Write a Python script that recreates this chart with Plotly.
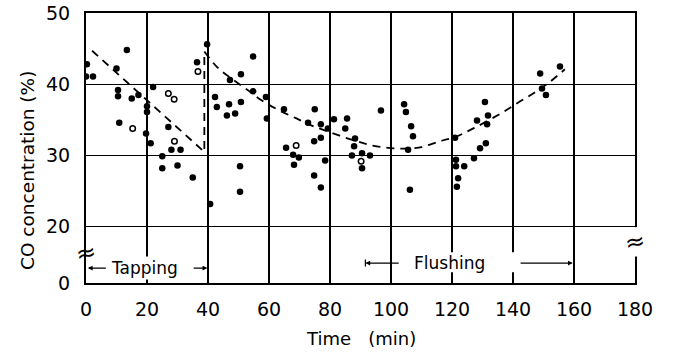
import plotly.graph_objects as go

# Measured CO concentration (%) against time (min)
time_filled = [0.3, 0.0, 2.3, 13.4, 10.0, 10.5, 10.5, 15.0, 17.2, 10.9, 20.0, 20.0, 22.0,
               19.7, 21.2, 27.0, 28.0, 31.0, 25.0, 25.0, 30.0, 35.0, 40.7, 36.4, 39.7,
               42.3, 42.9, 54.8, 50.8, 47.2, 54.8, 59.0, 46.9, 50.8, 46.2, 48.9, 59.3,
               64.9, 75.0, 72.8, 77.0, 79.3, 81.3, 85.6, 85.0,
               65.6, 74.8, 77.0, 67.9, 69.8, 68.2, 78.4, 50.5, 50.5, 74.8, 77.0,
               96.7, 104.3, 104.9, 106.6, 107.2, 88.2, 87.9, 105.6, 87.2, 90.5, 93.1,
               90.5, 106.2,
               121.0, 130.8, 128.2, 131.8, 131.5, 131.1, 129.2, 121.3, 121.3, 124.0,
               122.0, 121.6, 127.2,
               155.4, 148.9, 149.5, 150.8]
co_filled = [42.8, 41.1, 41.1, 44.8, 42.2, 39.2, 38.3, 38.0, 38.5, 34.6, 36.9, 36.1, 39.6,
             33.1, 31.7, 34.0, 30.8, 30.8, 29.9, 28.2, 28.6, 26.9, 23.2, 43.1, 45.6,
             38.2, 36.8, 43.9, 41.4, 40.6, 39.0, 38.2, 37.2, 37.5, 35.6, 35.9, 35.2,
             36.5, 36.5, 34.6, 34.4, 33.8, 35.1, 35.2, 33.8,
             31.1, 32.0, 32.5, 30.1, 29.7, 28.7, 29.3, 28.5, 24.9, 27.2, 25.5,
             36.3, 37.2, 36.1, 34.1, 32.7, 32.4, 31.3, 30.8, 30.0, 30.3, 30.0,
             28.2, 25.2,
             32.5, 37.5, 34.9, 35.6, 34.4, 31.7, 31.0, 29.4, 28.5, 28.5,
             26.8, 25.6, 29.6,
             42.5, 41.5, 39.4, 38.5]

time_open = [36.7, 15.3, 27.0, 28.9, 29.0, 68.9, 90.2]
co_open = [41.8, 33.8, 38.7, 37.9, 32.0, 31.4, 29.2]

# Trend during tapping (straight fall, then jump back up)
trend_tap_t = [2.0, 38.8, 38.8]
trend_tap_co = [44.7, 30.5, 44.6]

# Trend after tapping, through flushing
trend_t = [38.8, 43, 48, 53, 57, 63, 69, 74, 81, 88, 94, 101, 109, 116, 121,
           127, 136, 142, 147, 152, 157]
trend_co = [44.6, 42.4, 40.7, 39.2, 37.9, 36.4, 35.2, 34.2, 33.1, 32.1, 31.4, 31.0,
            31.1, 32.0, 32.6, 33.8, 35.9, 37.5, 38.8, 40.3, 42.1]

x_ticks = list(range(0, 181, 20))
y_bottom = 12.1  # axis is broken between 0 and 20
y_ticks = [y_bottom, 20, 30, 40, 50]
y_ticktext = ["0", "20", "30", "40", "50"]

FONT = "DejaVu Sans"
dash = "8px,6px"

W, H = 674, 354
ML, MR, MT, MB = 86, 39, 13, 71
PW, PH = W - ML - MR, H - MT - MB


def px_to_paper(px, py):
    """Pixel position in the page -> paper fraction of the plot area."""
    return (px - ML) / PW, (H - MB - py) / PH


def txt(size):
    return dict(family=FONT, size=size, color="black")


fig = go.Figure()
fig.add_trace(go.Scatter(x=trend_tap_t, y=trend_tap_co, mode="lines",
                         line=dict(color="black", width=1.8, dash=dash),
                         hoverinfo="skip"))
fig.add_trace(go.Scatter(x=trend_t, y=trend_co, mode="lines",
                         line=dict(color="black", width=1.8, dash=dash, shape="spline"),
                         hoverinfo="skip"))
fig.add_trace(go.Scatter(x=time_filled, y=co_filled, mode="markers",
                         marker=dict(color="black", size=6.5, line=dict(width=0))))
fig.add_trace(go.Scatter(x=time_open, y=co_open, mode="markers",
                         marker=dict(color="white", size=5.5,
                                     line=dict(color="black", width=1.5))))

# white patch behind the "Flushing" label to interrupt the grid
fig.add_shape(type="rect", xref="x", yref="y", x0=101.5, x1=143.5, y0=13.6, y1=16.4,
              fillcolor="white", line=dict(width=0), layer="between")

arrow = dict(text="", showarrow=True, arrowhead=2, arrowsize=0.8, arrowwidth=1.2,
             arrowcolor="black", xref="x", yref="y", axref="x", ayref="y")

# phase labels with arrows
fig.add_annotation(x=19.3, y=14.2, xref="x", yref="y", text="Tapping", showarrow=False,
                   font=txt(17), xanchor="center", bgcolor="white", borderpad=1)
fig.add_annotation(x=0.6, y=14.2, ax=7.0, ay=14.2, **arrow)
fig.add_annotation(x=39.8, y=14.2, ax=34.8, ay=14.2, **arrow)

fig.add_annotation(x=119.3, y=14.9, xref="x", yref="y", text="Flushing", showarrow=False,
                   font=txt(17), xanchor="center")
fig.add_annotation(x=91.6, y=14.9, ax=103.0, ay=14.9, **arrow)
fig.add_annotation(x=159.6, y=14.9, ax=142.0, ay=14.9, **arrow)
fig.add_shape(type="line", xref="x", yref="y", x0=91.6, x1=91.6, y0=14.4, y1=15.4,
              line=dict(color="black", width=1.2))

# axis break marks
fig.add_annotation(x=0, y=16.3, xref="x", yref="y", text="≈", showarrow=False,
                   font=txt(24), borderpad=0, textangle=-10)
fig.add_annotation(x=180, y=17.9, xref="x", yref="y", text="≈", showarrow=False,
                   font=txt(24), bgcolor="white", borderpad=0, textangle=-10)

# axis titles
tx, ty = px_to_paper(27, 171)
fig.add_annotation(x=tx, y=ty, xref="paper", yref="paper", text="CO concentration (%)",
                   showarrow=False, textangle=-90, xanchor="center", yanchor="middle",
                   font=txt(18.5))
tx, ty = px_to_paper(361, 338)
fig.add_annotation(x=tx, y=ty, xref="paper", yref="paper", text="Time\u00a0\u00a0\u00a0(min)",
                   showarrow=False, xanchor="center", yanchor="middle", font=txt(18))

fig.update_layout(
    width=W, height=H,
    margin=dict(l=ML, r=MR, t=MT, b=MB, autoexpand=False),
    paper_bgcolor="white", plot_bgcolor="white",
    showlegend=False,
    font=txt(19),
    xaxis=dict(range=[0, 180], tickvals=x_ticks, showgrid=True, gridcolor="black",
               gridwidth=1.6, zeroline=False, showline=True, linecolor="black",
               linewidth=2, mirror=True, ticks="outside", ticklen=8,
               tickcolor="rgba(0,0,0,0)", automargin=False, tickfont=txt(19)),
    yaxis=dict(range=[y_bottom, 50], tickvals=y_ticks, ticktext=y_ticktext,
               showgrid=True, gridcolor="black", gridwidth=1.1, zeroline=False,
               showline=True, linecolor="black", linewidth=2, mirror=True,
               ticks="outside", ticklen=10, tickcolor="rgba(0,0,0,0)",
               automargin=False, tickfont=txt(19)),
)

fig.write_html("out.html")
